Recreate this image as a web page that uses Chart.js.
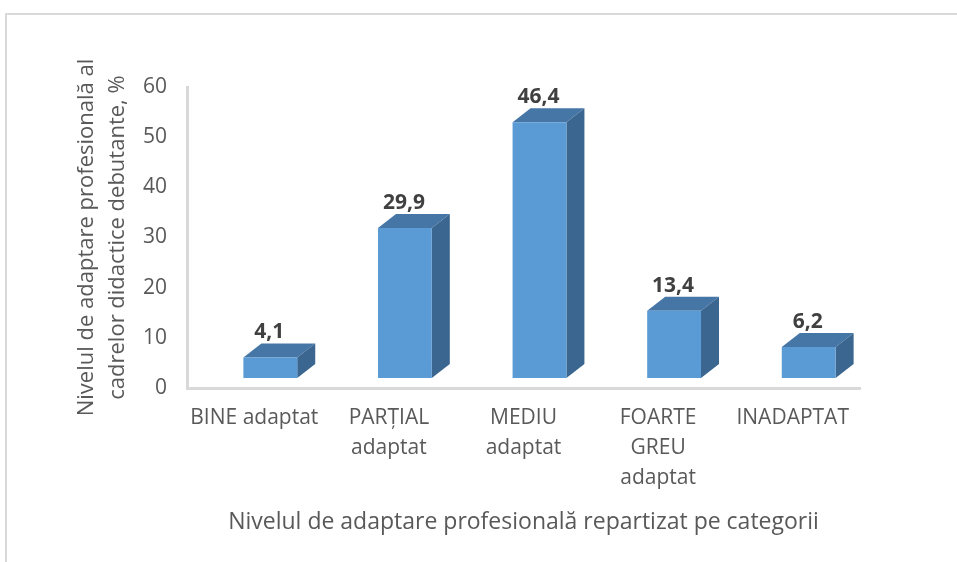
<!DOCTYPE html>
<html lang="ro">
<head>
<meta charset="UTF-8">
<title>Nivelul de adaptare profesională</title>
<script src="https://cdn.jsdelivr.net/npm/chart.js"></script>
<style>
  html, body { margin: 0; padding: 0; overflow: hidden; background: #fff; }
  #frame {
    position: absolute; left: 5px; top: 13px;
    width: 2000px; height: 2000px;
    border: 2px solid #d9d9d9;
  }
  #wrap { position: absolute; left: 0; top: 0; width: 957px; height: 562px; }
</style>
</head>
<body>
<div id="frame"></div>
<div id="wrap"><canvas id="grafic"></canvas></div>

<script>
const categories = [
  "BINE adaptat",
  ["PARȚIAL", "adaptat"],
  ["MEDIU", "adaptat"],
  ["FOARTE", "GREU", "adaptat"],
  "INADAPTAT"
];
// heights of the drawn columns
const barHeights = [4.1, 29.9, 51.0, 13.4, 6.2];
// texts written above the columns
const valueLabels = ["4,1", "29,9", "46,4", "13,4", "6,2"];

const yTitle = ["Nivelul de adaptare profesională al", "cadrelor didactice debutante, %"];
const xTitle = "Nivelul de adaptare profesională repartizat pe categorii";

const FONT = "'Open Sans', Arial, sans-serif";
const SHIFT_X = 16, SHIFT_Y = -10;   // front face offset from the back wall
const DEPTH_X = 18, DEPTH_Y = 14;    // 3d depth

// draws top and side faces, and the labels above
const box3d = {
  id: "box3d",
  beforeDatasetsDraw(chart) {
    const ctx = chart.ctx;
    ctx.save();
    ctx.translate(SHIFT_X, SHIFT_Y);
    chart.getDatasetMeta(0).data.forEach(bar => {
      const l = bar.x - bar.width / 2, r = bar.x + bar.width / 2;
      const t = bar.y, b = bar.base;
      ctx.fillStyle = "#4676a6";
      ctx.beginPath();
      ctx.moveTo(l, t);
      ctx.lineTo(l + DEPTH_X, t - DEPTH_Y);
      ctx.lineTo(r + DEPTH_X, t - DEPTH_Y);
      ctx.lineTo(r, t);
      ctx.closePath();
      ctx.fill();
      ctx.fillStyle = "#3b6690";
      ctx.beginPath();
      ctx.moveTo(r, t);
      ctx.lineTo(r + DEPTH_X, t - DEPTH_Y);
      ctx.lineTo(r + DEPTH_X, b - DEPTH_Y);
      ctx.lineTo(r, b);
      ctx.closePath();
      ctx.fill();
    });
  },
  afterDatasetsDraw(chart) {
    const ctx = chart.ctx;
    ctx.restore();
    ctx.save();
    ctx.font = "bold 21px " + FONT;
    ctx.fillStyle = "#404040";
    ctx.textAlign = "center";
    ctx.textBaseline = "middle";
    chart.getDatasetMeta(0).data.forEach((bar, i) => {
      ctx.fillText(valueLabels[i], bar.x + SHIFT_X - 1, bar.y + SHIFT_Y - 25);
    });
    ctx.restore();
  }
};

new Chart(document.getElementById("grafic"), {
  type: "bar",
  data: {
    labels: categories,
    datasets: [{
      data: barHeights,
      backgroundColor: "#5b9bd5",
      borderWidth: 0,
      barPercentage: 0.5,
      categoryPercentage: 0.8
    }]
  },
  plugins: [box3d],
  options: {
    responsive: true,
    maintainAspectRatio: false,
    animation: false,
    layout: { padding: { top: 87, left: 0, right: 97, bottom: 25 } },
    plugins: {
      legend: { display: false },
      tooltip: { enabled: false }
    },
    scales: {
      x: {
        grid: { display: false, drawTicks: false },
        border: { display: true, color: "#d9d9d9", width: 3 },
        ticks: {
          color: "#595959",
          font: { family: FONT, size: 21, lineHeight: 1.42 },
          padding: 15,
          maxRotation: 0,
          autoSkip: false
        },
        title: {
          display: true,
          text: xTitle,
          color: "#595959",
          font: { family: FONT, size: 23, lineHeight: 1.3 },
          padding: 0
        },
        afterFit(s) { s.height = 149; }
      },
      y: {
        min: 0,
        max: 60,
        grid: { display: false, drawTicks: false },
        border: { display: true, color: "#d9d9d9", width: 3 },
        ticks: {
          stepSize: 10,
          color: "#595959",
          font: { family: FONT, size: 21 },
          padding: 20
        },
        title: {
          display: true,
          text: yTitle,
          color: "#595959",
          font: { family: FONT, size: 22, lineHeight: 1.38 },
          padding: { top: 72, bottom: 0 }
        },
        afterFit(s) { s.width = 187; }
      }
    }
  }
});
</script>
</body>
</html>
